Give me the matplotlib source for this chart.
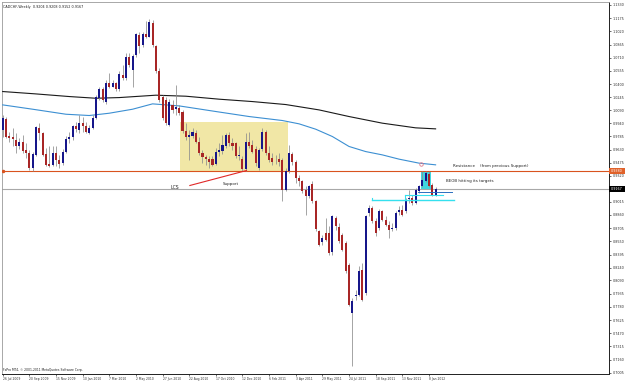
import matplotlib
matplotlib.use("Agg")
import matplotlib.pyplot as plt
import matplotlib.transforms as mtransforms
from matplotlib.patches import Rectangle

# ---------------- data ----------------
title = "CADCHF,Weekly  0.9204 0.9208 0.9152 0.9167"
footer = "FxPro MT4, \u00a9 2001-2011 MetaQuotes Software Corp."

date_labels = ["26 Jul 2009", "20 Sep 2009", "15 Nov 2009", "10 Jan 2010", "7 Mar 2010",
               "2 May 2010", "27 Jun 2010", "22 Aug 2010", "17 Oct 2010", "12 Dec 2010",
               "6 Feb 2011", "3 Apr 2011", "29 May 2011", "24 Jul 2011", "18 Sep 2011",
               "13 Nov 2011", "8 Jan 2012"]
date_step = 8  # weeks between date labels

price_ticks = [1.1330, 1.1175, 1.1020, 1.0865, 1.0710, 1.0555, 1.0400, 1.0245, 1.0090,
               0.9940, 0.9785, 0.9630, 0.9475, 0.9320, 0.9015, 0.8860, 0.8705,
               0.8550, 0.8395, 0.8240, 0.8090, 0.7935, 0.7780, 0.7625, 0.7470, 0.7315,
               0.7160, 0.7005]

opens = [0.9861, 0.9987, 0.9791, 0.9775, 0.9744, 0.9666, 0.9713, 0.9626, 0.9595, 0.9411,
         0.9567, 0.9881, 0.9822, 0.9579, 0.9454, 0.9450, 0.9595, 0.9501, 0.9470, 0.9606,
         0.9752, 0.9775, 0.9909, 0.9861, 0.9940, 0.9909, 0.9830, 0.9881, 0.9998, 1.0233,
         1.0339, 1.0194, 1.0418, 1.0371, 1.0410, 1.0339, 1.0508, 1.0468, 1.0723, 1.0566,
         1.0743, 1.0978, 1.0860, 1.0989, 1.0958, 1.1123, 1.0848, 1.0558, 1.0253, 1.0214,
         0.9920, 1.0155, 1.0104, 1.0116, 1.0077, 0.9853, 0.9783, 0.9791, 0.9830, 0.9724,
         0.9595, 0.9540, 0.9517, 0.9517, 0.9462, 0.9606, 0.9618, 0.9673, 0.9802, 0.9705,
         0.9705, 0.9556, 0.9517, 0.9399, 0.9724, 0.9685, 0.9634, 0.9411, 0.9634, 0.9841,
         0.9595, 0.9528, 0.9501, 0.9517, 0.9501, 0.9156, 0.9372, 0.9579, 0.9478, 0.9294,
         0.9254, 0.9156, 0.9078, 0.9227, 0.9019, 0.8667, 0.8538, 0.8647, 0.8647, 0.8420,
         0.8823, 0.8718, 0.8628, 0.8530, 0.8275, 0.7707, 0.7911, 0.7922, 0.8216, 0.7942,
         0.8882, 0.8941, 0.8784, 0.8706, 0.8902, 0.8804, 0.8745, 0.8694, 0.8706, 0.8890,
         0.8921, 0.8902, 0.9047, 0.9059, 0.9000, 0.9137, 0.9196, 0.9254, 0.9344, 0.9215,
         0.9098]
closes = [0.9998, 0.9783, 0.9763, 0.9752, 0.9666, 0.9713, 0.9618, 0.9595, 0.9411, 0.9579,
          0.9893, 0.9830, 0.9567, 0.9450, 0.9442, 0.9595, 0.9501, 0.9462, 0.9606, 0.9752,
          0.9783, 0.9901, 0.9869, 0.9940, 0.9909, 0.9841, 0.9881, 0.9998, 1.0245, 1.0339,
          1.0214, 1.0418, 1.0371, 1.0410, 1.0339, 1.0519, 1.0468, 1.0715, 1.0625, 1.0731,
          1.0989, 1.0848, 1.0989, 1.0958, 1.1127, 1.0860, 1.0558, 1.0214, 0.9998, 0.9940,
          1.0194, 1.0096, 1.0136, 1.0065, 0.9853, 0.9775, 0.9802, 0.9841, 0.9724, 0.9587,
          0.9540, 0.9517, 0.9478, 0.9450, 0.9606, 0.9626, 0.9685, 0.9802, 0.9705, 0.9666,
          0.9548, 0.9567, 0.9399, 0.9724, 0.9666, 0.9606, 0.9470, 0.9626, 0.9841, 0.9587,
          0.9509, 0.9489, 0.9509, 0.9489, 0.9156, 0.9372, 0.9587, 0.9478, 0.9294, 0.9254,
          0.9137, 0.9078, 0.9196, 0.9019, 0.8694, 0.8510, 0.8589, 0.8569, 0.8412, 0.8843,
          0.8726, 0.8549, 0.8451, 0.8197, 0.7805, 0.7844, 0.7922, 0.8197, 0.7864, 0.8843,
          0.8941, 0.8784, 0.8647, 0.8902, 0.8804, 0.8745, 0.8686, 0.8706, 0.8882, 0.8913,
          0.8863, 0.9019, 0.9059, 0.9000, 0.9149, 0.9196, 0.9274, 0.9352, 0.9203, 0.9098,
          0.9167]
highs = [1.0037, 1.0018, 0.9841, 0.9881, 0.9822, 0.9763, 0.9802, 0.9705, 0.9626, 0.9606,
         0.9909, 0.9940, 0.9841, 0.9646, 0.9666, 0.9666, 0.9666, 0.9567, 0.9634, 0.9791,
         0.9841, 0.9920, 0.9959, 1.0037, 1.0018, 0.9959, 0.9920, 1.0037, 1.0272, 1.0371,
         1.0363, 1.0449, 1.0527, 1.0449, 1.0429, 1.0558, 1.0625, 1.0762, 1.0762, 1.0754,
         1.1005, 1.1017, 1.1017, 1.1146, 1.1162, 1.1154, 1.0860, 1.0586, 1.0272, 1.0253,
         1.0222, 1.0214, 1.0390, 1.0155, 1.0096, 0.9940, 0.9861, 0.9881, 0.9861, 0.9783,
         0.9626, 0.9567, 0.9548, 0.9548, 0.9646, 0.9705, 0.9802, 0.9822, 0.9841, 0.9763,
         0.9724, 0.9666, 0.9548, 0.9822, 0.9841, 0.9744, 0.9666, 0.9646, 0.9881, 0.9861,
         0.9666, 0.9587, 0.9567, 0.9587, 0.9528, 0.9411, 0.9685, 0.9606, 0.9509, 0.9333,
         0.9274, 0.9196, 0.9215, 0.9254, 0.9039, 0.8686, 0.8628, 0.8823, 0.8726, 0.8863,
         0.8843, 0.8765, 0.8647, 0.8549, 0.8295, 0.7883, 0.7981, 0.8256, 0.8295, 0.8863,
         0.8980, 0.8961, 0.8823, 0.8929, 0.8921, 0.8843, 0.8784, 0.8765, 0.8902, 0.8961,
         0.8980, 0.9059, 0.9156, 0.9098, 0.9176, 0.9215, 0.9372, 0.9383, 0.9372, 0.9235,
         0.9188]
lows = [0.9783, 0.9763, 0.9724, 0.9666, 0.9587, 0.9634, 0.9587, 0.9528, 0.9391, 0.9383,
        0.9548, 0.9744, 0.9548, 0.9431, 0.9423, 0.9438, 0.9431, 0.9411, 0.9450, 0.9595,
        0.9705, 0.9744, 0.9841, 0.9830, 0.9841, 0.9822, 0.9814, 0.9869, 0.9987, 1.0214,
        1.0194, 1.0167, 1.0351, 1.0363, 1.0323, 1.0323, 1.0449, 1.0449, 1.0606, 1.0371,
        1.0723, 1.0762, 1.0833, 1.0939, 1.0950, 1.0841, 1.0535, 1.0194, 0.9979, 0.9924,
        0.9909, 1.0057, 1.0037, 1.0037, 0.9830, 0.9744, 0.9509, 0.9763, 0.9705, 0.9567,
        0.9470, 0.9450, 0.9411, 0.9431, 0.9446, 0.9548, 0.9579, 0.9646, 0.9666, 0.9626,
        0.9528, 0.9509, 0.9383, 0.9383, 0.9646, 0.9587, 0.9438, 0.9391, 0.9618, 0.9567,
        0.9489, 0.9450, 0.9462, 0.9431, 0.9019, 0.9137, 0.9352, 0.9450, 0.9235, 0.9196,
        0.9117, 0.8863, 0.9059, 0.9000, 0.8667, 0.8491, 0.8510, 0.8549, 0.8392, 0.8392,
        0.8686, 0.8530, 0.8432, 0.8177, 0.7785, 0.7080, 0.7864, 0.7903, 0.7844, 0.7922,
        0.8843, 0.8765, 0.8608, 0.8686, 0.8784, 0.8726, 0.8589, 0.8667, 0.8686, 0.8863,
        0.8843, 0.8882, 0.9000, 0.8980, 0.8992, 0.9117, 0.9188, 0.9243, 0.9188, 0.9086,
        0.9078]

# moving averages (sampled readings, index = week number)
ma_slow_idx = [0, 10, 20, 28, 35, 46, 55, 65, 75, 85, 95, 104, 114, 124, 130]
ma_slow_val = [1.0312, 1.0284, 1.0253, 1.0233, 1.0241, 1.0269, 1.0257, 1.0222, 1.0194,
               1.0159, 1.0096, 1.0018, 0.9940, 0.9885, 0.9873]
ma_fast_idx = [0, 9, 19, 26, 32, 39, 45, 53, 64, 74, 84, 89, 94, 99, 104, 109, 114, 119, 125, 130]
ma_fast_val = [1.0155, 1.0104, 1.0045, 1.0030, 1.0057, 1.0104, 1.0167, 1.0143, 1.0077,
               1.0018, 0.9971, 0.9932, 0.9869, 0.9783, 0.9666, 0.9606, 0.9567, 0.9517,
               0.9470, 0.9450]

resistance = 0.9380
last_price = 0.9167

# ---------------- figure ----------------
W, H = 625, 383
fig = plt.figure(figsize=(W / 100, H / 100), dpi=100)
fig.patch.set_facecolor("white")
ax_l, ax_r, ax_t, ax_b = 2, 609, 2, 374
ax = fig.add_axes([ax_l / W, (H - ax_b) / H, (ax_r - ax_l) / W, (ax_b - ax_t) / H])
ax.set_facecolor("white")

px_per_bar = 3.33
x0 = -0.21
ax.set_xlim(x0, x0 + (ax_r - ax_l) / px_per_bar)
ax.set_ylim(0.6990, 1.1365)

# yellow consolidation box
ax.add_patch(Rectangle((53.2, 0.9383), 32.6, 0.9959 - 0.9383, fc="#f1e7a6", ec="none", zorder=1))
# cyan box
ax.add_patch(Rectangle((125.6, 0.9164), 3.0, 0.9372 - 0.9164, fc="#3fd6df", ec="none", zorder=1))

# horizontal lines
ax.axhline(resistance, color="#d9531e", lw=0.8, zorder=2)
ax.axhline(last_price, color="#a8a8a8", lw=0.8, zorder=2)
ax.plot([x0 + 0.3], [resistance], marker="o", ms=1.5, color="#d9531e", zorder=3)

# moving averages
ax.plot(ma_slow_idx, ma_slow_val, color="#1a1a1a", lw=0.8, zorder=3)
ax.plot(ma_fast_idx, ma_fast_val, color="#3c8fd2", lw=0.8, zorder=3)

# candles
n = len(closes)
xs = list(range(n))
bull_c = "#16168a"
bear_c = "#a82626"
wick_c = "#8c8c8c"
ax.vlines(xs, lows, highs, colors=wick_c, lw=0.55, zorder=4)
for i in xs:
    o, c = opens[i], closes[i]
    lo, hi = min(o, c), max(o, c)
    h = max(hi - lo, 0.0006)
    col = bull_c if c >= o else bear_c
    ax.bar(i, h, bottom=lo, width=0.62, color=col, lw=0, zorder=5)

# target lines
ax.plot([110.9, 135.5], [0.9036, 0.9036], color="#35e0ee", lw=1.0, zorder=6)
ax.plot([110.9, 110.9], [0.9036, 0.9060], color="#35e0ee", lw=0.8, zorder=6)
ax.plot([120.7, 132.2], [0.9098, 0.9098], color="#35e0ee", lw=0.8, zorder=6)
ax.plot([120.7, 120.7], [0.9098, 0.9040], color="#35e0ee", lw=0.8, zorder=6)
ax.plot([124.7, 134.8], [0.9126, 0.9126], color="#2a6fc0", lw=0.7, zorder=6)

# pink circle
ax.plot([125.6], [0.9459], marker="o", ms=2.5, mfc="none", mec="#e07a8a", mew=0.6, zorder=7)

# LCS -> support line
ax.plot([56.2, 73.2], [0.9207, 0.9383], color="#e02828", lw=0.8, zorder=6)

fs = 2.9
ax.text(50.4, 0.9188, "LCS", fontsize=3.3, color="#222222", va="center", ha="left", zorder=8)
ax.text(66.2, 0.9223, "Support", fontsize=fs, color="#222222", va="center", ha="left", zorder=8)
ax.text(135.2, 0.9436, "Resistance    (from previous Support)", fontsize=fs, color="#222222",
        va="center", ha="left", zorder=8)
ax.text(133.1, 0.9259, "BEOB hitting its targets", fontsize=fs, color="#222222",
        va="center", ha="left", zorder=8)

# axes styling
for s in ["top", "left"]:
    ax.spines[s].set_color("#9a9a9a")
    ax.spines[s].set_linewidth(0.6)
for s in ["right", "bottom"]:
    ax.spines[s].set_color("#202020")
    ax.spines[s].set_linewidth(0.7)

ax.yaxis.tick_right()
ax.set_yticks(price_ticks)
ax.set_yticklabels([f"{v:.4f}" for v in price_ticks])
ax.tick_params(axis="y", length=1.5, width=0.5, pad=1.2, labelsize=2.4, colors="#303030")

ax.set_xticks([i * date_step for i in range(len(date_labels))])
ax.set_xticklabels(date_labels)
for lbl in ax.get_xticklabels():
    lbl.set_horizontalalignment("left")
ax.tick_params(axis="x", length=1.5, width=0.5, pad=0.8, labelsize=2.2, colors="#303030")

# price boxes on the right axis
blend = mtransforms.blended_transform_factory(ax.transAxes, ax.transData)
bw = 16 / (ax_r - ax_l)
bh = 6 / 850
ax.add_patch(Rectangle((1.0, resistance - bh / 2), bw, bh, transform=blend, fc="#e0622a",
                       ec="none", clip_on=False, zorder=10))
ax.text(1.0 + bw / 2, resistance, f"{resistance:.4f}", transform=blend, fontsize=2.4,
        color="white", ha="center", va="center", clip_on=False, zorder=11)
ax.add_patch(Rectangle((1.0, last_price - bh / 2), bw, bh, transform=blend, fc="#000000",
                       ec="none", clip_on=False, zorder=10))
ax.text(1.0 + bw / 2, last_price, f"{last_price:.4f}", transform=blend, fontsize=2.4,
        color="white", ha="center", va="center", clip_on=False, zorder=11)

# title and footer
fig.text(3 / W, 1 - 7 / H, title, fontsize=2.4, color="#202020", ha="left", va="center")
fig.text(3 / W, 1 - 370 / H, footer, fontsize=2.2, color="#202020", ha="left", va="center")

fig.savefig("out.png", dpi=100, facecolor="white")
